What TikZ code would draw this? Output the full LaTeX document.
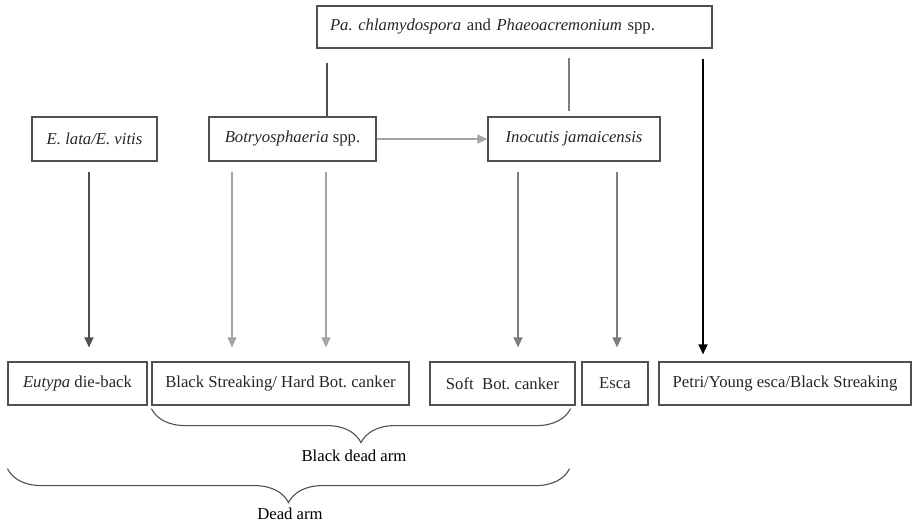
\documentclass[tikz,border=0pt]{standalone}
\usepackage{fontspec}
\setmainfont{Liberation Serif}
\usetikzlibrary{arrows.meta,decorations.pathreplacing}
\definecolor{boxc}{RGB}{80,80,80}
\definecolor{midc}{RGB}{125,125,125}
\definecolor{lightc}{RGB}{165,165,165}
\tikzset{
  fbox/.style={draw=boxc,line width=1.2pt,minimum height=43pt,inner sep=0pt,text=black!85},
  link/.style={line width=1.1pt},
  arr/.style={link,-{Triangle[length=10pt,width=9pt]}},
  brc/.style={decorate,decoration={brace,mirror,amplitude=34pt},line width=1.1pt,draw=boxc}
}
\frenchspacing
\begin{document}
\begin{tikzpicture}[x=1pt,y=-1pt,font=\fontsize{16.7}{20}\selectfont]
  \useasboundingbox (0,0) rectangle (912,525);
  % row centres
  \def\rT{27}\def\rM{139}\def\rB{383.5}
  % top box
  \node[fbox,text width=369pt,align=left,inner xsep=13pt,minimum height=42pt] (pch) at (514.5,\rT)
    {\textit{Pa. chlamydospora} and \textit{Phaeoacremonium} spp.};
  % pathogens
  \node[fbox,minimum width=125pt,minimum height=44pt] (ela) at (94.5,\rM) {\textit{E. lata/E. vitis}};
  \node[fbox,minimum width=167pt,minimum height=44pt] (bot) at (292.5,\rM) {\textit{Botryosphaeria} spp.};
  \node[fbox,minimum width=172pt,minimum height=44pt] (ino) at (574,\rM) {\textit{Inocutis jamaicensis}};
  % symptoms
  \node[fbox,minimum width=139pt] (eut) at (77.5,\rB) {\textit{Eutypa} die-back};
  \node[fbox,minimum width=257pt] (bsh) at (280.5,\rB) {Black Streaking/ Hard Bot. canker};
  \node[fbox,minimum width=145pt] (sbc) at (502.5,\rB) {Soft\ \ Bot. canker};
  \node[fbox,minimum width=66pt] (esc) at (615,\rB) {Esca};
  \node[fbox,minimum width=252pt] (pet) at (785,\rB) {Petri/Young esca/Black Streaking};
  % links from the top box
  \coordinate (kb) at (327,\rM);
  \coordinate (ki) at (569,\rM);
  \coordinate (kp) at (703,\rM);
  \draw[link,boxc,shorten <=14pt] (kb |- pch.south) -- (kb |- bot.north);
  \draw[link,midc,shorten <=9pt,shorten >=5pt] (ki |- pch.south) -- (ki |- ino.north);
  \draw[arr,black,line width=1.7pt,shorten <=10pt,shorten >=7pt] (kp |- pch.south) -- (kp |- pet.north);
  % Botryosphaeria -> Inocutis
  \draw[arr,lightc] (bot.east) -- (ino.west);
  % pathogen -> symptom arrows
  \foreach \x/\a/\b/\c in {89/ela/eut/boxc,232/bot/bsh/lightc,326/bot/bsh/lightc,518/ino/sbc/midc,617/ino/esc/midc}{
    \coordinate (k) at (\x,0);
    \draw[arr,\c,shorten <=10pt,shorten >=14pt] (k |- \a.south) -- (k |- \b.north);}
  % braces
  \draw[brc] ([yshift=-3pt]bsh.south west) -- ([xshift=-5pt,yshift=-3pt]sbc.south east);
  \draw[brc] ([yshift=-63pt]eut.south west) -- ([xshift=-6pt,yshift=-63pt]sbc.south east);
  \node (bda) at (354,456) {Black dead arm};
  \node (dam) at (290,514) {Dead arm};
\end{tikzpicture}
\end{document}
